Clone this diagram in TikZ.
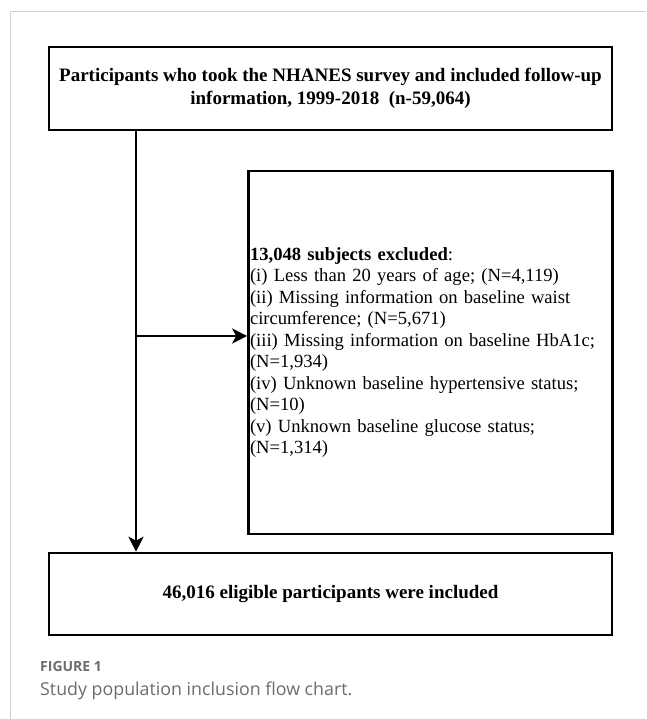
\documentclass[tikz,border=0pt]{standalone}
\usepackage{fontspec}
\setmainfont{Liberation Serif}
\newfontfamily\captionfont{Open Sans}
\usetikzlibrary{arrows.meta, positioning, calc}
\definecolor{FrameGray}{HTML}{D0D0D0}
\definecolor{CaptionGray}{HTML}{6C6C6C}

\begin{document}
\begin{tikzpicture}[x=1pt, y=-1pt,
    flowbox/.style={draw=black, line width=2.6pt, minimum width=563pt, minimum height=83pt,
      align=center, inner sep=3pt, font=\fontsize{19}{22.5}\selectfont\bfseries},
    exclbox/.style={draw=black, line width=2.6pt, minimum width=364pt, minimum height=363pt,
      text width=361pt, align=left, inner xsep=1.5pt, font=\fontsize{18.6}{21.5}\selectfont},
    flowarrow/.style={line width=2.3pt, -{Stealth[length=15pt, width=15pt, inset=4pt]}},
    captext/.style={anchor=base west, inner sep=0pt, color=CaptionGray}]
  \useasboundingbox (0,0) rectangle (646,719);
  % card frame
  \draw[color=FrameGray, line width=1pt] (10,719) -- (10,12) -- (646,12);
  % boxes
  \node[flowbox] (cohort) at (330.5,88.5)
    {Participants who took the NHANES survey and included follow-up\\information, 1999-2018\ \ (n-59,064)};
  \node[exclbox] (excluded) at (430.5,352.5)
    {\textbf{13,048 subjects excluded}:\\
     (i) Less than 20 years of age; (N=4,119)\\
     (ii) Missing information on baseline waist\\
     circumference; (N=5,671)\\
     (iii) Missing information on baseline HbA1c;\\
     (N=1,934)\\
     (iv) Unknown baseline hypertensive status;\\
     (N=10)\\
     (v) Unknown baseline glucose status;\\
     (N=1,314)};
  \node[flowbox, minimum height=82pt] (included) at (330.5,594)
    {46,016 eligible participants were included};
  % connectors
  \coordinate (branch) at (136,336);
  \draw[flowarrow] (cohort.south -| branch) -- (included.north -| branch);
  \draw[flowarrow] (branch) -- (branch -| excluded.west);
  % caption
  \node[captext, font=\captionfont\bfseries\fontsize{14}{16}\selectfont] (figlabel) at (40,671) {FIGURE 1};
  \node[captext, font=\captionfont\fontsize{17.8}{20}\selectfont] (figcaption) at (40,695) {Study population inclusion flow chart.};
\end{tikzpicture}
\end{document}
